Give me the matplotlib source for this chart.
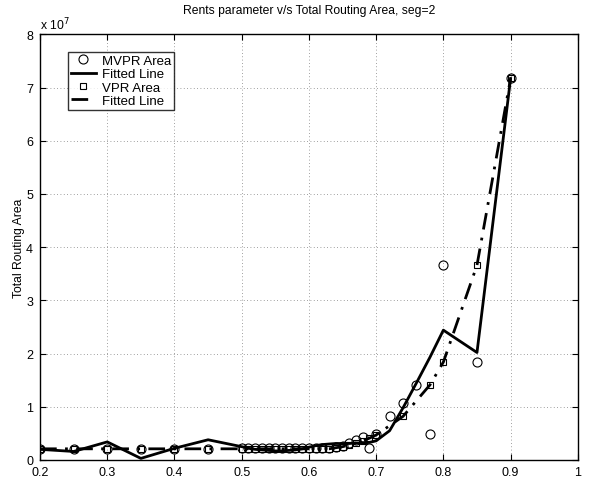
import numpy as np
import matplotlib
matplotlib.use("Agg")
import matplotlib.pyplot as plt

plt.rcParams['font.family'] = ['Liberation Sans', 'DejaVu Sans']

# rents parameter (x) and routing area in units of 1e7
rent_p = [0.20, 0.25, 0.30, 0.35, 0.40, 0.45, 0.50,
          0.51, 0.52, 0.53, 0.54, 0.55, 0.56, 0.57, 0.58, 0.59, 0.60,
          0.61, 0.62, 0.63, 0.64, 0.65, 0.66, 0.67, 0.68, 0.69, 0.70,
          0.72, 0.74, 0.76, 0.78, 0.80, 0.85, 0.90]

mvpr_area = [0.21, 0.21, 0.21, 0.21, 0.21, 0.21, 0.22,
             0.22, 0.22, 0.22, 0.22, 0.22, 0.22, 0.22, 0.22, 0.22, 0.22,
             0.22, 0.22, 0.22, 0.24, 0.27, 0.32, 0.38, 0.43, 0.22, 0.48,
             0.82, 1.07, 1.41, 0.48, 3.66, 1.84, 7.17]

mvpr_fit = [0.20, 0.16, 0.34, 0.03, 0.22, 0.38, 0.25,
            0.22, 0.20, 0.19, 0.18, 0.17, 0.17, 0.18, 0.19, 0.21, 0.24,
            0.27, 0.29, 0.30, 0.31, 0.31, 0.31, 0.32, 0.32, 0.33, 0.36,
            0.55, 0.98, 1.45, 1.93, 2.44, 2.02, 7.17]

vpr_x = [0.20, 0.25, 0.30, 0.35, 0.40, 0.45, 0.50,
         0.51, 0.52, 0.53, 0.54, 0.55, 0.56, 0.57, 0.58, 0.59, 0.60,
         0.61, 0.62, 0.63, 0.64, 0.65, 0.66, 0.67, 0.68, 0.69, 0.70,
         0.74, 0.78, 0.80, 0.85, 0.90]

vpr_area = [0.21, 0.21, 0.21, 0.21, 0.21, 0.21, 0.21,
            0.21, 0.21, 0.21, 0.21, 0.21, 0.21, 0.21, 0.21, 0.21, 0.21,
            0.21, 0.21, 0.21, 0.23, 0.25, 0.28, 0.32, 0.36, 0.41, 0.47,
            0.82, 1.41, 1.84, 3.66, 7.17]

vpr_fit = vpr_area

fig = plt.figure(figsize=(5.89, 4.81), dpi=100)
ax = fig.add_axes([0.068, 0.0416, 0.913, 0.885])

ax.plot(rent_p, mvpr_area, 'o', mfc='none', mec='black', ms=6.5, mew=0.8, label='MVPR Area')
ax.plot(rent_p, mvpr_fit, '-', color='black', lw=2, label='Fitted Line')
ax.plot(vpr_x, vpr_area, 's', mfc='none', mec='black', ms=5, mew=0.8, label='VPR Area')
ax.plot(vpr_x, vpr_fit, color='black', lw=2, dashes=(6, 3, 1, 3), label='Fitted Line')

ax.set_xlim(0.2, 1.0)
ax.set_ylim(0, 8)
ax.set_xticks(np.arange(0.2, 1.01, 0.1))
ax.set_xticklabels(['0.2', '0.3', '0.4', '0.5', '0.6', '0.7', '0.8', '0.9', '1'])
ax.set_yticks(range(0, 9))
ax.tick_params(direction='in', top=True, right=True, labelsize=9, length=4)
ax.tick_params(axis='x', pad=4)
ax.tick_params(axis='y', pad=5)
ax.grid(True, linestyle=(0, (1, 3)), color='gray', lw=0.6)
for s in ax.spines.values():
    s.set_linewidth(1.0)

ax.set_title('Rents parameter v/s Total Routing Area, seg=2', fontsize=8.7, pad=15)
ax.set_ylabel('Total Routing Area', fontsize=8.7, labelpad=1)
ax.text(0.0, 1.005, r'x 10$^{7}$', transform=ax.transAxes, fontsize=8.7, ha='left', va='bottom')

leg = ax.legend(loc='upper left', bbox_to_anchor=(0.052, 0.958), fontsize=9.5, frameon=True,
                fancybox=False, edgecolor='black', borderpad=0.2, labelspacing=0.08,
                handlelength=1.9, handletextpad=0.5, borderaxespad=0)
leg.get_frame().set_linewidth(1.0)

fig.savefig('out.png', dpi=100)
